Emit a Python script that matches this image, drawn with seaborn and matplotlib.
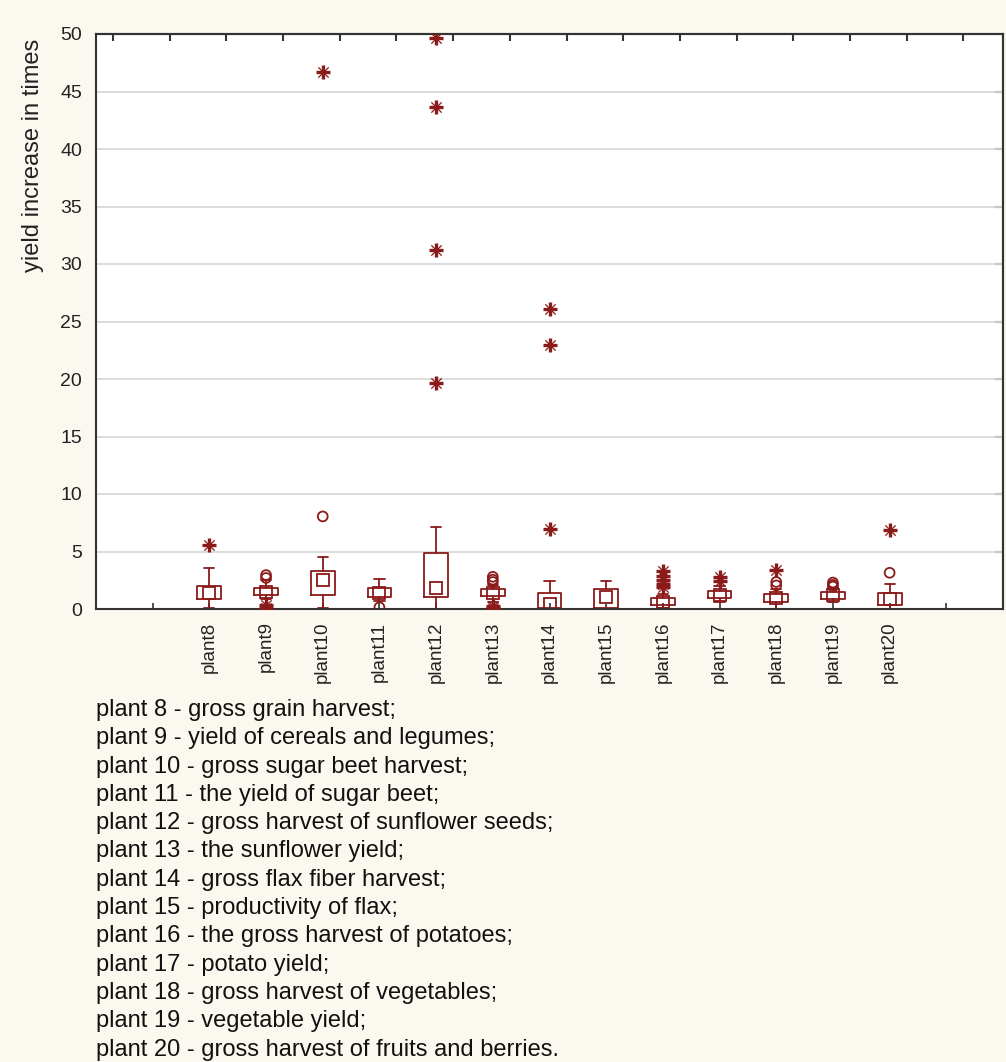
import numpy as np
import pandas as pd
import matplotlib
matplotlib.use("Agg")
import matplotlib.pyplot as plt
import seaborn as sns

# ---- data ----
plants = ["plant8", "plant9", "plant10", "plant11", "plant12", "plant13", "plant14",
          "plant15", "plant16", "plant17", "plant18", "plant19", "plant20"]
medians = [1.40, 1.50, 2.50, 1.40, 1.80, 1.35, 0.40, 1.07, 0.65, 1.25, 0.95, 1.20, 0.90]
q1s     = [0.87, 1.22, 1.22, 1.02, 1.07, 1.10, 0.05, 0.05, 0.38, 0.95, 0.60, 0.85, 0.35]
q3s     = [2.00, 1.80, 3.33, 1.80, 4.90, 1.70, 1.42, 1.74, 0.95, 1.60, 1.30, 1.50, 1.36]
whis_lo = [0.05, 0.90, 0.05, 0.70, 0.00, 0.60, 0.00, 0.00, 0.10, 0.60, 0.00, 0.60, 0.00]
whis_hi = [3.54, 2.50, 4.55, 2.58, 7.16, 2.10, 2.43, 2.43, 1.30, 2.00, 1.70, 1.80, 2.20]
outliers = [[], [2.95, 2.70], [8.05], [0.15], [], [2.80, 2.55, 2.35], [], [], [],
            [], [2.35, 2.05], [2.30, 2.10, 1.95], [3.15]]
extremes = [[5.60], [0.35, 0.10], [46.70], [], [49.65, 43.65, 31.20, 19.65], [0.25, 0.05],
            [26.10, 23.00, 7.00], [], [3.30, 2.90, 2.55, 2.20, 1.90], [2.75, 2.40],
            [3.43], [], [6.85]]
yticks = [0, 5, 10, 15, 20, 25, 30, 35, 40, 45, 50]
legend_lines = [
    "plant 8 - gross grain harvest;",
    "plant 9 - yield of cereals and legumes;",
    "plant 10 - gross sugar beet harvest;",
    "plant 11 - the yield of sugar beet;",
    "plant 12 - gross harvest of sunflower seeds;",
    "plant 13 - the sunflower yield;",
    "plant 14 - gross flax fiber harvest;",
    "plant 15 - productivity of flax;",
    "plant 16 - the gross harvest of potatoes;",
    "plant 17 - potato yield;",
    "plant 18 - gross harvest of vegetables;",
    "plant 19 - vegetable yield;",
    "plant 20 - gross harvest of fruits and berries.",
]
ylabel = "yield increase in times"

RED = "#8B1A1A"
BG = "#FBF8EF"

sns.set_theme(style="white")
plt.rcParams["font.family"] = ["Liberation Sans", "DejaVu Sans"]

W, H = 1006, 1062
fig = plt.figure(figsize=(W / 100, H / 100), dpi=100, facecolor=BG)
ax = fig.add_axes([96 / W, 1 - 609 / H, (1003 - 96) / W, (609 - 34) / H])
ax.set_facecolor("white")

pos = np.arange(len(plants))
stats = []
for i, p in enumerate(plants):
    stats.append(dict(label=p, med=medians[i], q1=q1s[i], q3=q3s[i],
                      whislo=whis_lo[i], whishi=whis_hi[i], mean=medians[i], fliers=[]))

ax.bxp(stats, positions=pos, widths=0.42, showfliers=False, showmeans=True,
       patch_artist=False, manage_ticks=False,
       boxprops=dict(color=RED, linewidth=1.3),
       whiskerprops=dict(color=RED, linewidth=1.3),
       capprops=dict(color=RED, linewidth=1.3),
       medianprops=dict(linewidth=0),
       meanprops=dict(marker="s", markerfacecolor="none", markeredgecolor=RED,
                      markersize=8.5, markeredgewidth=1.3),
       capwidths=0.18)

# outliers (circles) and extremes (asterisks)
out_df = pd.DataFrame([(i, v) for i, vals in enumerate(outliers) for v in vals],
                      columns=["pos", "value"])
ext_df = pd.DataFrame([(i, v) for i, vals in enumerate(extremes) for v in vals],
                      columns=["pos", "value"])
sns.scatterplot(data=out_df, x="pos", y="value", ax=ax, marker="o", color=RED,
                facecolor="none", edgecolor=RED, s=50, linewidth=1.3, zorder=5,
                legend=False)
sns.scatterplot(data=ext_df, x="pos", y="value", ax=ax, marker="+", color=RED,
                s=90, linewidth=2.4, zorder=5, legend=False)
sns.scatterplot(data=ext_df, x="pos", y="value", ax=ax, marker="x", color=RED,
                s=55, linewidth=0.9, zorder=5, legend=False)

ax.set_xlim(-2, 14)
ax.set_ylim(0, 50)
ax.set_yticks(yticks)
ax.set_yticklabels([str(t) for t in yticks], fontsize=14, color="#222222")
xt = np.arange(-1, len(plants) + 1)
ax.set_xticks(xt)
ax.set_xticklabels([""] + plants + [""], rotation=90, fontsize=13.5,
                   color="#222222", va="top")
ax.tick_params(axis="x", direction="in", length=4, width=1.2, color="#333333",
               bottom=True, pad=9)
ax.tick_params(axis="y", direction="in", length=0, pad=10, left=True, right=False)
ax.set_xlabel("")
ax.set_ylabel("")
fig.text(33 / W, 1 - 155 / H, ylabel, rotation=90, fontsize=17, color="#222222",
         ha="center", va="center")

ax.grid(axis="y", color="#D9D9D9", linewidth=1.3)
ax.grid(axis="x", visible=False)
ax.set_axisbelow(True)
for s in ax.spines.values():
    s.set_color("#333333")
    s.set_linewidth(1.5)
    s.set_visible(True)

# right-side inward ticks
sec_y = ax.secondary_yaxis("right")
sec_y.set_yticks(yticks[1:-1])
sec_y.set_yticklabels([])
sec_y.tick_params(direction="in", length=6, width=1.5, color="#333333")
# top inward ticks
sec_x = ax.secondary_xaxis("top")
sec_x.set_xticks(np.arange(-1.7, 14, 1.0))
sec_x.set_xticklabels([])
sec_x.tick_params(direction="in", length=5, width=1.5, color="#333333")
for s in list(sec_y.spines.values()) + list(sec_x.spines.values()):
    s.set_color("#333333")
    s.set_linewidth(1.5)

for i, line in enumerate(legend_lines):
    fig.text(96 / W, 1 - (710 + 28.3 * i) / H, line, fontsize=17,
             color="#111111", va="center", ha="left")

fig.savefig("out.png", dpi=100, facecolor=BG)
